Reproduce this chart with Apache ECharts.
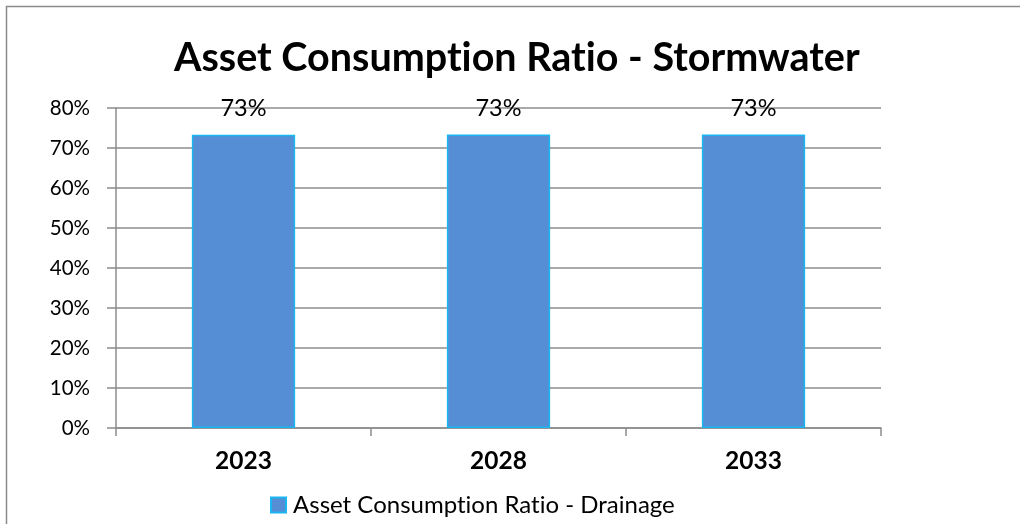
<!DOCTYPE html>
<html>
<head>
<meta charset="utf-8">
<title>Asset Consumption Ratio - Stormwater</title>
<script src="https://cdn.jsdelivr.net/npm/echarts@6/dist/echarts.min.js"></script>
<style>
  html, body { margin: 0; padding: 0; background: #ffffff; }
  #chart { width: 1020px; height: 524px; }
</style>
</head>
<body>
<div id="chart"></div>
<script>
// Reporting years and ratios (fraction of asset consumed)
const years = ['2023', '2028', '2033'];
const drainageRatio = [0.733, 0.734, 0.734];
const yTicks = [0, 0.1, 0.2, 0.3, 0.4, 0.5, 0.6, 0.7, 0.8];

// A zero-width non-joiner keeps Lato from fusing "t" + "i" into a ligature
const NOLIG = '\u200C';
const chartTitle = 'Asset Consumpt' + NOLIG + 'ion Rat' + NOLIG + 'io - Stormwater';
const seriesName = 'Asset Consumpt' + NOLIG + 'ion Rat' + NOLIG + 'io - Drainage';

const FONT = 'Lato, "Open Sans", sans-serif';
const GRID_GREY = '#8c8c8c';

const chart = echarts.init(document.getElementById('chart'), null, { renderer: 'canvas' });

chart.setOption({
  backgroundColor: '#ffffff',
  animation: false,
  title: {
    text: chartTitle,
    left: 169,
    top: 33,
    textStyle: { fontFamily: FONT, fontWeight: 'bold', fontSize: 39.5, color: '#000000' }
  },
  graphic: [{
    type: 'rect',
    shape: { x: 6.5, y: 6.5, width: 1100, height: 1100 },
    style: { fill: null, stroke: '#8c8c8c', lineWidth: 1.5 },
    silent: true
  }],
  legend: {
    data: [seriesName],
    bottom: 2,
    left: 265,
    itemWidth: 15,
    itemHeight: 15,
    itemGap: 6,
    icon: 'rect',
    textStyle: { fontFamily: FONT, fontSize: 24, color: '#000000', padding: [0, 0, 0, 2] }
  },
  grid: { left: 116, right: 139, top: 108, bottom: 96, containLabel: false },
  xAxis: {
    type: 'category',
    data: years,
    boundaryGap: true,
    axisLine: { show: true, lineStyle: { color: GRID_GREY, width: 1.5 } },
    axisTick: { show: true, alignWithLabel: false, length: 8, lineStyle: { color: GRID_GREY, width: 1.5 } },
    axisLabel: { fontFamily: FONT, fontWeight: 'bold', fontSize: 24.5, color: '#000000', margin: 21 }
  },
  yAxis: {
    type: 'value',
    min: 0,
    max: 0.8,
    interval: 0.1,
    axisLine: { show: true, lineStyle: { color: GRID_GREY, width: 1.5 } },
    axisTick: { show: true, length: 9, lineStyle: { color: GRID_GREY, width: 1.5 } },
    splitLine: { show: true, lineStyle: { color: GRID_GREY, width: 1.5 } },
    axisLabel: {
      fontFamily: FONT, fontSize: 20.5, color: '#000000', margin: 26,
      customValues: yTicks,
      formatter: v => Math.round(v * 100) + '%'
    }
  },
  series: [{
    name: seriesName,
    type: 'bar',
    data: drainageRatio,
    barWidth: '40.5%',
    itemStyle: { color: '#558ed5', borderColor: '#1ab6f0', borderWidth: 1.5 },
    label: {
      show: true,
      position: 'top',
      distance: 14,
      fontFamily: FONT,
      fontSize: 23.5,
      color: '#000000',
      formatter: p => Math.round(p.value * 100) + '%'
    }
  }]
});
</script>
</body>
</html>
